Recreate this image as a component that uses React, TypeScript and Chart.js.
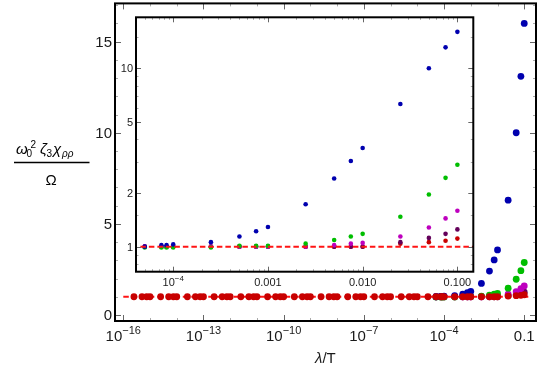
import React, { useEffect, useRef } from "react";
import { Chart, registerables } from "chart.js";

Chart.register(...registerables);

// ---------- DATA ----------
// x values of the low-λ/T red points (main plot only)
const lowX = [
  2.5e-16, 5e-16, 7.5e-16, 1e-15,
  2.5e-15, 5e-15, 7.5e-15, 1e-14,
  2.5e-14, 5e-14, 7.5e-14, 1e-13,
  2.5e-13, 5e-13, 7.5e-13, 1e-12,
  2.5e-12, 5e-12, 7.5e-12, 1e-11,
  2.5e-11, 5e-11, 7.5e-11, 1e-10,
  2.5e-10, 5e-10, 7.5e-10, 1e-9,
  2.5e-9, 5e-9, 7.5e-9, 1e-8,
  2.5e-8, 5e-8, 7.5e-8, 1e-7,
  2.5e-7, 5e-7, 7.5e-7, 1e-6,
  2.5e-6, 5e-6, 7.5e-6, 1e-5,
  2.5e-5,
];
const lowRedY = [
  1, 1, 1, 1, 1, 1, 1, 1, 1, 1, 1, 1, 1, 1, 1,
  1, 1, 1, 1, 1, 1, 1, 1, 1, 1, 1, 1, 1, 1, 1,
  1, 1, 1, 1, 1, 1, 1, 1, 1, 1, 1, 1, 1, 1, 1,
];

// x values shared by all five series (shown in the inset)
const insetX = [5e-5, 7.5e-5, 8.5e-5, 1e-4, 2.5e-4, 5e-4, 7.5e-4, 1e-3, 2.5e-3, 5e-3, 7.5e-3, 1e-2, 2.5e-2, 5e-2, 7.5e-2, 0.1];
const blueY = [1.0, 1.02, 1.02, 1.03, 1.06, 1.14, 1.22, 1.29, 1.73, 2.41, 3.02, 3.57, 6.3, 10.0, 13.1, 16.0];
const greenY = [0.99, 0.99, 0.99, 0.99, 0.99, 1.01, 1.01, 1.01, 1.04, 1.09, 1.14, 1.18, 1.47, 1.96, 2.43, 2.88];
const magentaY = [1, 1, 1, 1, 1, 1, 1, 1, 1.0, 1.02, 1.04, 1.05, 1.14, 1.28, 1.44, 1.59];
const purpleY = [1, 1, 1, 1, 1, 1, 1, 1, 1, 1, 1, 1.0, 1.06, 1.12, 1.18, 1.25];
const redY = [1, 1, 1, 1, 1, 1, 1, 1, 1, 1, 1, 1, 1.04, 1.06, 1.08, 1.11];

// reference line y = 1
const refY = 1;
const mainRefX = [1e-16, 0.163];
const insetRefX = [4.5e-5, 0.3];

// ---------- TICKS ----------
const mainXMajor = [1e-16, 1e-13, 1e-10, 1e-7, 1e-4, 0.1];
const mainXLabels = [["10", "−16"], ["10", "−13"], ["10", "−10"], ["10", "−7"], ["10", "−4"], ["0.1", ""]];
const mainXMinor = [1e-15, 1e-14, 1e-12, 1e-11, 1e-9, 1e-8, 1e-6, 1e-5, 1e-3, 1e-2];
const mainYMajor = [0, 5, 10, 15];
const mainYLabels = ["0", "5", "10", "15"];
const mainYMinor = [1, 2, 3, 4, 6, 7, 8, 9, 11, 12, 13, 14, 16, 17];

const insetXMajor = [1e-4, 1e-3, 1e-2, 1e-1];
const insetXLabels = [["10", "−4"], ["0.001", ""], ["0.010", ""], ["0.100", ""]];
const insetXMinor = [5e-5, 6e-5, 7e-5, 8e-5, 9e-5, 2e-4, 3e-4, 4e-4, 5e-4, 6e-4, 7e-4, 8e-4, 9e-4,
  2e-3, 3e-3, 4e-3, 5e-3, 6e-3, 7e-3, 8e-3, 9e-3, 2e-2, 3e-2, 4e-2, 5e-2, 6e-2, 7e-2, 8e-2, 9e-2];
const insetYMajor = [1, 2, 5, 10];
const insetYLabels = ["1", "2", "5", "10"];
const insetYMinor = [0.8, 0.9, 1.5, 3, 4, 6, 7, 8, 9, 15];

// ---------- STYLE ----------
const BLUE = "rgb(0,0,175)";
const GREEN = "rgb(0,190,0)";
const MAGENTA = "rgb(190,0,190)";
const PURPLE = "rgb(100,0,90)";
const RED = "rgb(200,0,0)";
const DASH = "rgb(255,20,20)";
const FONT = "'Liberation Sans', Arial, sans-serif";

const pts = (xs: number[], ys: number[]) => xs.map((x, i) => ({ x, y: ys[i] }));

function drawPow(ctx: CanvasRenderingContext2D, base: string, exp: string, cx: number, baseline: number, size: number, supSize: number) {
  ctx.font = `${size}px ${FONT}`;
  const wb = ctx.measureText(base).width;
  ctx.font = `${supSize}px ${FONT}`;
  const we = exp ? ctx.measureText(exp).width : 0;
  const start = cx - (wb + we) / 2;
  ctx.textAlign = "left";
  ctx.textBaseline = "alphabetic";
  ctx.font = `${size}px ${FONT}`;
  ctx.fillText(base, start, baseline);
  if (exp) {
    ctx.font = `${supSize}px ${FONT}`;
    ctx.fillText(exp, start + wb, baseline - size * 0.5);
  }
}

function drawFrameTicks(chart: any, o: { xMaj: number[]; xMin: number[]; yMaj: number[]; yMin: number[]; maj: number; min: number; frame: number }) {
  const ctx: CanvasRenderingContext2D = chart.ctx;
  const a = chart.chartArea;
  const xs = chart.scales.x;
  const ys = chart.scales.y;
  ctx.save();
  const tick = (vals: number[], len: number, color: string, horiz: boolean) => {
    ctx.strokeStyle = color;
    ctx.lineWidth = 1;
    ctx.beginPath();
    for (const v of vals) {
      if (horiz) {
        const p = Math.round(xs.getPixelForValue(v)) + 0.5;
        if (p < a.left || p > a.right) continue;
        ctx.moveTo(p, a.bottom); ctx.lineTo(p, a.bottom - len);
        ctx.moveTo(p, a.top); ctx.lineTo(p, a.top + len);
      } else {
        const p = Math.round(ys.getPixelForValue(v)) + 0.5;
        if (p < a.top || p > a.bottom) continue;
        ctx.moveTo(a.left, p); ctx.lineTo(a.left + len, p);
        ctx.moveTo(a.right, p); ctx.lineTo(a.right - len, p);
      }
    }
    ctx.stroke();
  };
  tick(o.xMin, o.min, "#aaa", true);
  tick(o.yMin, o.min, "#aaa", false);
  tick(o.xMaj, o.maj, "#666", true);
  tick(o.yMaj, o.maj, "#666", false);
  ctx.strokeStyle = "#000";
  ctx.lineWidth = o.frame;
  ctx.strokeRect(a.left, a.top, a.right - a.left, a.bottom - a.top);
  ctx.restore();
}

const mainDecor = {
  id: "mainDecor",
  beforeDraw(chart: any) {
    const ctx = chart.ctx;
    ctx.save();
    ctx.fillStyle = "#fff";
    ctx.fillRect(0, 0, chart.width, chart.height);
    ctx.restore();
  },
  afterDatasetsDraw(chart: any) {
    drawFrameTicks(chart, { xMaj: mainXMajor, xMin: mainXMinor, yMaj: mainYMajor, yMin: mainYMinor, maj: 6, min: 3, frame: 2 });
  },
  afterDraw(chart: any) {
    const ctx: CanvasRenderingContext2D = chart.ctx;
    const a = chart.chartArea;
    const xs = chart.scales.x;
    const ys = chart.scales.y;
    ctx.save();
    ctx.fillStyle = "#1a1a1a";
    // y tick labels
    ctx.font = `15px ${FONT}`;
    ctx.textAlign = "right";
    ctx.textBaseline = "middle";
    mainYMajor.forEach((v, i) => ctx.fillText(mainYLabels[i], a.left - 3, ys.getPixelForValue(v) + 1));
    // x tick labels
    mainXMajor.forEach((v, i) => drawPow(ctx, mainXLabels[i][0], mainXLabels[i][1], xs.getPixelForValue(v), 341, 15, 11));
    // x title
    ctx.textAlign = "left";
    ctx.textBaseline = "alphabetic";
    ctx.font = `italic 15px ${FONT}`;
    ctx.fillText("λ", 315, 363);
    const wl = ctx.measureText("λ").width;
    ctx.font = `15px ${FONT}`;
    ctx.fillText("/T", 315 + wl, 363);
    // y title (fraction)
    ctx.fillStyle = "#000";
    ctx.font = `italic 15px ${FONT}`;
    ctx.fillText("ω", 16, 154);
    ctx.font = `10px ${FONT}`;
    ctx.fillText("0", 26.5, 157);
    ctx.fillText("2", 30.5, 147.5);
    ctx.font = `italic 15px ${FONT}`;
    ctx.fillText("ζ", 40, 154);
    ctx.font = `10px ${FONT}`;
    ctx.fillText("3", 46.5, 157);
    ctx.font = `italic 15px ${FONT}`;
    ctx.fillText("χ", 53, 154);
    ctx.font = `italic 10px ${FONT}`;
    ctx.fillText("ρρ", 62, 157);
    ctx.strokeStyle = "#000";
    ctx.lineWidth = 1.3;
    ctx.beginPath();
    ctx.moveTo(14, 162.5);
    ctx.lineTo(89.5, 162.5);
    ctx.stroke();
    ctx.font = `15px ${FONT}`;
    ctx.textAlign = "center";
    ctx.fillText("Ω", 51, 185);
    ctx.restore();
  },
};

const insetDecor = {
  id: "insetDecor",
  beforeDatasetsDraw(chart: any) {
    const ctx = chart.ctx;
    const a = chart.chartArea;
    ctx.save();
    ctx.fillStyle = "#fff";
    ctx.fillRect(a.left, a.top, a.right - a.left, a.bottom - a.top);
    ctx.restore();
  },
  afterDatasetsDraw(chart: any) {
    drawFrameTicks(chart, { xMaj: insetXMajor, xMin: insetXMinor, yMaj: insetYMajor, yMin: insetYMinor, maj: 5, min: 2.5, frame: 2 });
  },
  afterDraw(chart: any) {
    const ctx: CanvasRenderingContext2D = chart.ctx;
    const a = chart.chartArea;
    const xs = chart.scales.x;
    const ys = chart.scales.y;
    ctx.save();
    ctx.fillStyle = "#1a1a1a";
    ctx.font = `11px ${FONT}`;
    ctx.textAlign = "right";
    ctx.textBaseline = "middle";
    insetYMajor.forEach((v, i) => ctx.fillText(insetYLabels[i], a.left - 3, ys.getPixelForValue(v) + 1));
    insetXMajor.forEach((v, i) => drawPow(ctx, insetXLabels[i][0], insetXLabels[i][1], xs.getPixelForValue(v), 286, 11, 8));
    ctx.restore();
  },
};

const scatterSet = (label: string, xs: number[], ys: number[], color: string, r: number, order: number) => ({
  type: "scatter" as const,
  label,
  data: pts(xs, ys),
  showLine: false,
  pointRadius: r,
  pointHoverRadius: r,
  pointBackgroundColor: color,
  pointBorderWidth: 0,
  borderColor: color,
  order,
});

const refSet = (xs: number[], order: number) => ({
  type: "line" as const,
  label: "ref",
  data: xs.map((x) => ({ x, y: refY })),
  borderColor: DASH,
  borderWidth: 2,
  borderDash: [5.5, 3],
  pointRadius: 0,
  fill: false,
  order,
});

export default function App() {
  const mainRef = useRef<HTMLCanvasElement>(null);
  const insetRef = useRef<HTMLCanvasElement>(null);

  useEffect(() => {
    document.body.style.margin = "0";
    const common = {
      responsive: false,
      animation: false as const,
      events: [] as any[],
      plugins: { legend: { display: false }, tooltip: { enabled: false } },
    };

    const main = new Chart(mainRef.current!, {
      type: "scatter",
      data: {
        datasets: [
          scatterSet("red", [...lowX, ...insetX], [...lowRedY, ...redY], RED, 3.4, 0),
          refSet(mainRefX, 1),
          scatterSet("blue", insetX, blueY, BLUE, 3.4, 2),
          scatterSet("green", insetX, greenY, GREEN, 3.4, 3),
          scatterSet("magenta", insetX, magentaY, MAGENTA, 3.4, 4),
          scatterSet("purple", insetX, purpleY, PURPLE, 3.4, 5),
        ] as any,
      },
      options: {
        ...common,
        layout: { padding: { left: 115, top: 3, right: 4, bottom: 52 } },
        scales: {
          x: { type: "logarithmic", display: false, bounds: "data", min: Math.pow(10, -16.31), max: Math.pow(10, -0.56) },
          y: { type: "linear", display: false, min: -0.33, max: 17.1 },
        },
      } as any,
      plugins: [mainDecor],
    });

    const inset = new Chart(insetRef.current!, {
      type: "scatter",
      data: {
        datasets: [
          refSet(insetRefX, 0),
          scatterSet("blue", insetX, blueY, BLUE, 2.3, 1),
          scatterSet("green", insetX, greenY, GREEN, 2.3, 2),
          scatterSet("magenta", insetX, magentaY, MAGENTA, 2.3, 3),
          scatterSet("purple", insetX, purpleY, PURPLE, 2.3, 4),
          scatterSet("red", insetX, redY, RED, 2.3, 5),
        ] as any,
      },
      options: {
        ...common,
        layout: { padding: { left: 136, top: 17.3, right: 66.7, bottom: 101.3 } },
        scales: {
          x: { type: "logarithmic", display: false, bounds: "data", min: Math.pow(10, -4.393), max: Math.pow(10, -0.832) },
          y: { type: "logarithmic", display: false, bounds: "data", min: 0.724, max: 19.3 },
        },
      } as any,
      plugins: [insetDecor],
    });

    return () => {
      main.destroy();
      inset.destroy();
    };
  }, []);

  return (
    <div style={{ position: "relative", width: 540, height: 373 }}>
      <canvas ref={mainRef} width={540} height={373} style={{ position: "absolute", left: 0, top: 0 }} />
      <canvas ref={insetRef} width={540} height={373} style={{ position: "absolute", left: 0, top: 0 }} />
    </div>
  );
}
